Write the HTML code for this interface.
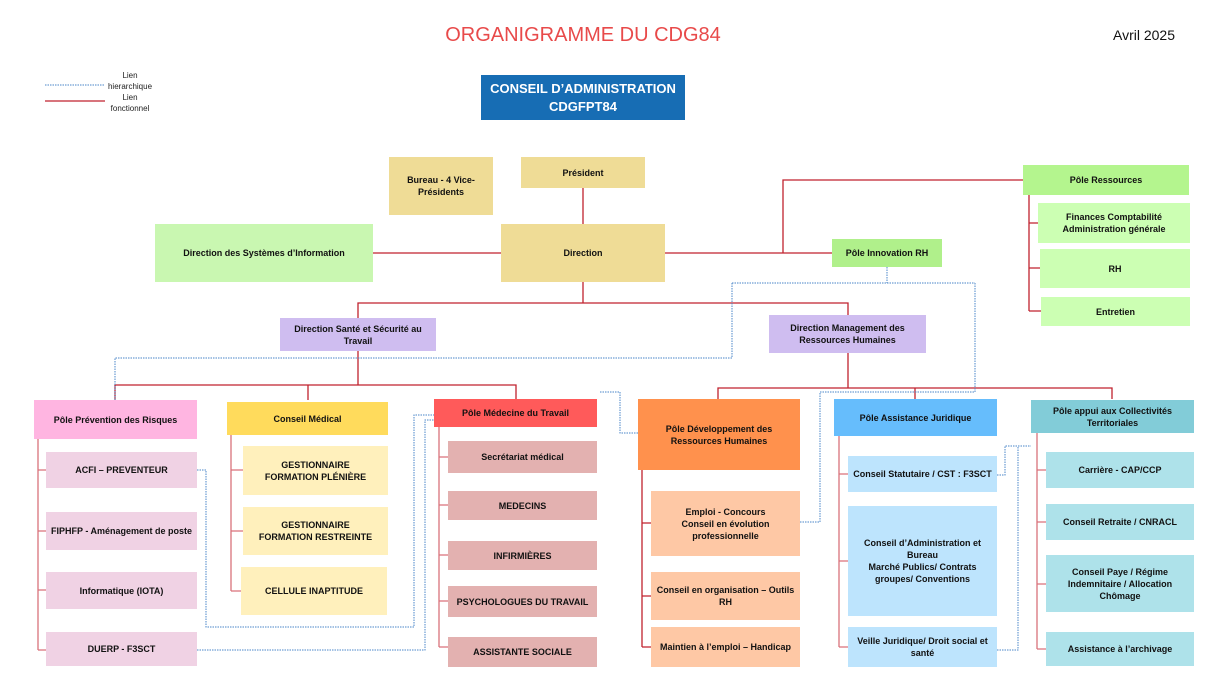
<!DOCTYPE html>
<html><head><meta charset="utf-8"><style>
body{margin:0;width:1229px;height:693px;background:#fff;position:relative;font-family:"Liberation Sans",sans-serif;overflow:hidden}
.b{position:absolute;display:flex;align-items:center;justify-content:center;text-align:center;font-weight:bold;font-size:9px;line-height:12px;color:#111;box-sizing:border-box;padding:0 3px}
svg{position:absolute;left:0;top:0}
</style></head><body>
<svg width="1229" height="693" fill="none">
<g stroke="#c0222e" stroke-width="1.3">
<path d="M583 188V224M373 253H501M665 253H832M783 253V180H1023M583 282V303M358 318V303H848V315M358 351V385M115 400V385H516V400M308 385V400M848 353V388M718 399V388H1112V399M915 388V399"/>
<path d="M1029 195V311M1029 223H1038M1029 268H1040M1029 311H1041"/>
<path d="M642 470V647M642 523H651M642 596H651M642 647H651"/>
</g>
<g stroke="#d9727b" stroke-width="1.3">
<path d="M38 439V650M38 470H46M38 531H46M38 590H46M38 650H46"/>
<path d="M231 435V591M231 470H243M231 531H243M231 591H241"/>
<path d="M439 427V647M439 457H448M439 505H448M439 555H448M439 601H448M439 647H448"/>
<path d="M839 436V647M839 474H848M839 561H848M839 647H848"/>
<path d="M1037 433V649M1037 470H1046M1037 522H1046M1037 584H1046M1037 649H1046"/>
</g>
<g stroke="#4a86c8" stroke-width="1" stroke-dasharray="1.5 1">
<path d="M45 85H105"/>
<path d="M887 267V283M732 283H975M732 283V358H115V400M975 283V392H820V522H800"/>
<path d="M600 392H620V433H638"/>
<path d="M197 470H206V627H414V415H434M197 650H425V420H434"/>
<path d="M997 475H1005V446H1031M997 650H1018V446"/>
</g>
<path d="M45 101H105" stroke="#c0222e" stroke-width="1.2"/>
</svg>
<div style="position:absolute;left:0;width:1166px;top:24px;text-align:center;color:#e84a4a;font-size:20px">ORGANIGRAMME DU CDG84</div>
<div style="position:absolute;left:1113px;top:27px;font-size:14px;color:#111">Avril 2025</div>
<div style="position:absolute;left:102px;width:56px;top:70px;text-align:center;font-size:8px;line-height:11px;color:#222">Lien hierarchique</div>
<div style="position:absolute;left:102px;width:56px;top:92px;text-align:center;font-size:8px;line-height:11px;color:#222">Lien fonctionnel</div>
<div class="b" style="left:481px;top:75px;width:204px;height:45px;background:#176db4;color:#fff;font-size:13px;line-height:18px">CONSEIL D’ADMINISTRATION<br>CDGFPT84</div>
<div class="b" style="left:389px;top:157px;width:104px;height:58px;background:#efdc96">Bureau - 4 Vice-Présidents</div>
<div class="b" style="left:521px;top:157px;width:124px;height:31px;background:#efdc96">Président</div>
<div class="b" style="left:501px;top:224px;width:164px;height:58px;background:#efdc96">Direction</div>
<div class="b" style="left:155px;top:224px;width:218px;height:58px;background:#c9f7b1">Direction des Systèmes d’Information</div>
<div class="b" style="left:1023px;top:165px;width:166px;height:30px;background:#b4f58e">Pôle Ressources</div>
<div class="b" style="left:832px;top:239px;width:110px;height:28px;background:#b0f08b">Pôle Innovation RH</div>
<div class="b" style="left:1038px;top:203px;width:152px;height:40px;background:#ccffb3">Finances Comptabilité Administration générale</div>
<div class="b" style="left:1040px;top:249px;width:150px;height:39px;background:#ccffb3">RH</div>
<div class="b" style="left:1041px;top:297px;width:149px;height:29px;background:#ccffb3">Entretien</div>
<div class="b" style="left:280px;top:318px;width:156px;height:33px;background:#cfbdf0">Direction Santé et Sécurité au Travail</div>
<div class="b" style="left:769px;top:315px;width:157px;height:38px;background:#cfbdf0">Direction Management des Ressources Humaines</div>

<div class="b" style="left:34px;top:400px;width:163px;height:39px;background:#ffb5e1">Pôle Prévention des Risques</div>
<div class="b" style="left:46px;top:452px;width:151px;height:36px;background:#f0d2e4">ACFI – PREVENTEUR</div>
<div class="b" style="left:46px;top:512px;width:151px;height:38px;background:#f0d2e4">FIPHFP - Aménagement de poste</div>
<div class="b" style="left:46px;top:572px;width:151px;height:37px;background:#f0d2e4">Informatique (IOTA)</div>
<div class="b" style="left:46px;top:632px;width:151px;height:34px;background:#f0d2e4">DUERP - F3SCT</div>

<div class="b" style="left:227px;top:402px;width:161px;height:33px;background:#ffdb5c">Conseil Médical</div>
<div class="b" style="left:243px;top:446px;width:145px;height:49px;background:#fff0bc">GESTIONNAIRE<br>FORMATION PLÉNIÈRE</div>
<div class="b" style="left:243px;top:507px;width:145px;height:48px;background:#fff0bc">GESTIONNAIRE<br>FORMATION RESTREINTE</div>
<div class="b" style="left:241px;top:567px;width:146px;height:48px;background:#fff0bc">CELLULE INAPTITUDE</div>

<div class="b" style="left:434px;top:399px;width:163px;height:28px;background:#ff5a5a">Pôle Médecine du Travail</div>
<div class="b" style="left:448px;top:441px;width:149px;height:32px;background:#e3b1b0">Secrétariat médical</div>
<div class="b" style="left:448px;top:491px;width:149px;height:29px;background:#e3b1b0">MEDECINS</div>
<div class="b" style="left:448px;top:541px;width:149px;height:29px;background:#e3b1b0">INFIRMIÈRES</div>
<div class="b" style="left:448px;top:586px;width:149px;height:31px;background:#e3b1b0">PSYCHOLOGUES DU TRAVAIL</div>
<div class="b" style="left:448px;top:637px;width:149px;height:30px;background:#e3b1b0">ASSISTANTE SOCIALE</div>

<div class="b" style="left:638px;top:399px;width:162px;height:71px;background:#ff914d">Pôle Développement des Ressources Humaines</div>
<div class="b" style="left:651px;top:491px;width:149px;height:65px;background:#fec8a5">Emploi - Concours<br>Conseil en évolution professionnelle</div>
<div class="b" style="left:651px;top:572px;width:149px;height:48px;background:#fec8a5">Conseil en organisation – Outils RH</div>
<div class="b" style="left:651px;top:627px;width:149px;height:40px;background:#fec8a5">Maintien à l’emploi – Handicap</div>

<div class="b" style="left:834px;top:399px;width:163px;height:37px;background:#66bdfc">Pôle Assistance Juridique</div>
<div class="b" style="left:848px;top:456px;width:149px;height:36px;background:#bde4fd">Conseil Statutaire / CST : F3SCT</div>
<div class="b" style="left:848px;top:506px;width:149px;height:110px;background:#bde4fd">Conseil d’Administration et Bureau<br>Marché Publics/ Contrats groupes/ Conventions</div>
<div class="b" style="left:848px;top:627px;width:149px;height:40px;background:#bde4fd">Veille Juridique/ Droit social et santé</div>

<div class="b" style="left:1031px;top:400px;width:163px;height:33px;background:#82ccd8">Pôle appui aux Collectivités Territoriales</div>
<div class="b" style="left:1046px;top:452px;width:148px;height:36px;background:#aee2ea">Carrière - CAP/CCP</div>
<div class="b" style="left:1046px;top:504px;width:148px;height:36px;background:#aee2ea">Conseil Retraite / CNRACL</div>
<div class="b" style="left:1046px;top:555px;width:148px;height:57px;background:#aee2ea">Conseil Paye / Régime Indemnitaire / Allocation Chômage</div>
<div class="b" style="left:1046px;top:632px;width:148px;height:34px;background:#aee2ea">Assistance à l’archivage</div>
</body></html>
